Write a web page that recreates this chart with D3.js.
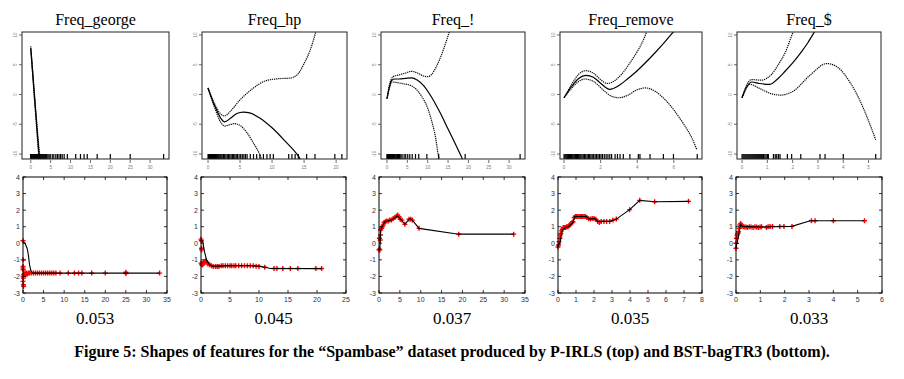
<!DOCTYPE html>
<html>
<head>
<meta charset="utf-8">
<script src="https://cdn.jsdelivr.net/npm/d3@7"></script>
<style>
  body { margin: 0; background: #fff; }
  svg { display: block; }
</style>
</head>
<body>
<div id="chart"></div>
<script>
// ---- data ----
var features = ["Freq_george", "Freq_hp", "Freq_!", "Freq_remove", "Freq_$"];
var scores = ["0.053", "0.045", "0.037", "0.035", "0.033"];
var caption = "Figure 5: Shapes of features for the \u201cSpambase\u201d dataset produced by P-IRLS (top) and BST-bagTR3 (bottom).";

// top row (P-IRLS shape functions)
var topYTicks = [-10, -5, 0, 5, 10];
var topYDomain = [-10.84, 10.5];
var topXTicks = [[0, 5, 10, 15, 20, 25, 30], [0, 5, 10, 15, 20], [0, 5, 10, 15, 20, 25, 30], [0, 2, 4, 6], [0, 1, 2, 3, 4, 5]];
var topXDomain = [[-2.2, 34.75], [-0.94, 21.7], [-1.47, 33.9], [-0.22, 7.54], [-0.2, 5.49]];

var fitGeorge = [[0, 7.8], [0.5, 3.5], [1, -0.9], [1.5, -5.2], [2, -9.4], [2.3, -11.5]];
var upperGeorge = [[0, 8.1], [0.5, 3.9], [1, -0.4], [1.5, -4.6], [2, -8.6], [2.5, -11.5]];
var lowerGeorge = [[0, 7.5], [0.5, 3.1], [1, -1.4], [1.5, -5.8], [1.9, -9.5], [2.1, -11.5]];

var fitHp = [[0, 1.1], [1, -1.8], [2, -4.0], [2.6, -4.6], [3.5, -4.0], [4.5, -3.2], [5.5, -2.95], [6.5, -3.1], [8, -3.9], [10, -5.6], [12, -7.8], [14, -10.2], [14.6, -11.2]];
var upperHp = [[0, 1.1], [1, -1.5], [2, -3.3], [2.6, -3.6], [3.5, -2.8], [5, -0.9], [7, 1.0], [9, 2.3], [11, 2.65], [12.8, 2.75], [14, 3.4], [15, 5.2], [16, 7.6], [17, 11.2]];
var lowerHp = [[0, 1.1], [1, -2.1], [2, -4.7], [2.6, -5.3], [3.3, -5.1], [4.1, -4.9], [5, -5.2], [6, -6.3], [7, -8], [8, -9.9], [8.5, -11.2]];

var fitExcl = [[0, -0.7], [0.5, 1.0], [1.2, 2.4], [2, 2.6], [3, 2.6], [4.5, 2.7], [6, 2.8], [7.5, 2.4], [9, 1.5], [11, -0.5], [13, -3], [15, -5.8], [17, -8.6], [18.5, -10.8], [19, -11.6]];
var upperExcl = [[0, -0.7], [0.5, 1.3], [1.5, 3.0], [3, 3.3], [4.5, 3.6], [6, 3.9], [7.5, 3.6], [9, 3.1], [10, 3.0], [11, 3.4], [12, 4.5], [13, 6], [14, 7.8], [15.6, 11.2]];
var lowerExcl = [[0, -0.7], [0.5, 0.8], [1.2, 2.1], [2.5, 2.0], [4, 1.8], [5.5, 1.6], [7, 1.0], [8.5, -0.3], [10, -2.3], [11, -4.5], [12, -7.5], [12.5, -9.8], [13, -11.5]];

var fitRemove = [[0, -0.55], [0.4, 1.3], [0.8, 2.7], [1.2, 3.2], [1.6, 2.9], [2, 1.9], [2.5, 0.85], [3, 1.5], [3.5, 2.7], [4, 4.0], [4.5, 5.5], [5, 7.1], [5.5, 8.8], [6, 10.6], [6.2, 11.3]];
var upperRemove = [[0, -0.55], [0.4, 1.6], [0.8, 3.4], [1.2, 4.0], [1.6, 3.6], [2, 2.5], [2.35, 1.85], [2.8, 2.4], [3.2, 3.6], [3.6, 5.3], [4, 7.2], [4.3, 8.9], [4.6, 11.2]];
var lowerRemove = [[0, -0.55], [0.4, 1.0], [0.8, 2.2], [1.15, 2.6], [1.6, 2.2], [2.2, 0.6], [2.6, -0.3], [3, -0.55], [3.5, -0.1], [4, 0.8], [4.45, 1.1], [5, 0.5], [5.5, -0.8], [6, -2.6], [6.5, -4.8], [7, -7.4], [7.25, -9.2]];

var fitDollar = [[0, -0.55], [0.15, 1.0], [0.38, 2.1], [0.7, 1.85], [1.1, 1.7], [1.4, 2.6], [1.7, 3.9], [2, 5.3], [2.3, 6.9], [2.6, 8.7], [2.9, 10.8], [3, 11.5]];
var upperDollar = [[0, -0.55], [0.15, 1.3], [0.38, 2.5], [0.78, 2.4], [1.0, 2.8], [1.17, 3.4], [1.4, 4.8], [1.7, 7.0], [2.05, 10.8], [2.15, 11.6]];
var lowerDollar = [[0, -0.55], [0.15, 0.9], [0.3, 1.7], [0.7, 1.0], [1.1, 0.2], [1.5, -0.1], [2, 0.5], [2.7, 3.3], [3.35, 5.2], [3.8, 4.5], [4.27, 2.0], [4.6, -0.5], [4.92, -3.6], [5.28, -7.6]];

var topFit = [fitGeorge, fitHp, fitExcl, fitRemove, fitDollar];
var topUpper = [upperGeorge, upperHp, upperExcl, upperRemove, upperDollar];
var topLower = [lowerGeorge, lowerHp, lowerExcl, lowerRemove, lowerDollar];

// rug of training values
var rugGeorge = [0, 0.04, 0.09, 0.15, 0.2, 0.26, 0.33, 0.4, 0.48, 0.55, 0.63, 0.71, 0.8, 0.9, 1.0, 1.1, 1.22, 1.35, 1.48, 1.6, 1.75, 1.9, 2.05, 2.2, 2.4, 2.6, 2.8, 3.0, 3.25, 3.5, 3.75, 4.0, 4.3, 4.6, 4.9, 5.4, 5.8, 6.3, 6.7, 7.1, 7.5, 7.9, 8.4, 9.2, 11.3, 12.5, 13.4, 14.2, 16.7, 20, 25, 33.4];
var rugHp = [0, 0.1, 0.2, 0.3, 0.4, 0.5, 0.6, 0.7, 0.8, 0.9, 1.0, 1.15, 1.3, 1.45, 1.6, 1.75, 1.9, 2.05, 2.2, 2.4, 2.6, 2.8, 3.0, 3.2, 3.4, 3.6, 3.8, 4.0, 4.2, 4.4, 4.6, 4.85, 5.1, 5.35, 5.6, 5.85, 6.1, 6.6, 7.1, 7.6, 8.1, 8.65, 9.2, 9.7, 10.2, 12.6, 13.1, 13.6, 14.1, 15.4, 16.7, 19.8, 20.9];
var rugExcl = [0, 0.1, 0.2, 0.3, 0.4, 0.5, 0.6, 0.7, 0.8, 0.9, 1.0, 1.15, 1.3, 1.45, 1.6, 1.8, 2.0, 2.2, 2.4, 2.6, 2.85, 3.1, 3.4, 3.7, 4.2, 4.6, 5.1, 5.6, 6.2, 7.0, 7.8, 9.8, 12.7, 19.2, 32.7];
var rugRemove = [0, 0.05, 0.1, 0.15, 0.2, 0.25, 0.3, 0.35, 0.4, 0.45, 0.5, 0.56, 0.62, 0.68, 0.74, 0.8, 0.86, 0.92, 0.98, 1.05, 1.12, 1.19, 1.26, 1.33, 1.4, 1.47, 1.54, 1.62, 1.7, 1.78, 1.86, 1.94, 2.02, 2.1, 2.2, 2.3, 2.4, 2.5, 2.6, 2.79, 2.92, 3.06, 3.24, 3.6, 4.06, 4.15, 4.7, 5.43, 5.98, 7.28];
var rugDollar = [0, 0.04, 0.08, 0.12, 0.16, 0.2, 0.24, 0.28, 0.32, 0.36, 0.4, 0.44, 0.48, 0.52, 0.56, 0.6, 0.64, 0.68, 0.72, 0.76, 0.8, 0.85, 0.9, 0.95, 1.0, 1.04, 1.24, 1.31, 1.37, 1.44, 1.5, 1.79, 1.96, 2.32, 3.08, 3.28, 4.0, 5.28];
var topRug = [rugGeorge, rugHp, rugExcl, rugRemove, rugDollar];

// bottom row (BST-bagTR3)
var botYTicks = [-3, -2, -1, 0, 1, 2, 3, 4];
var botYDomain = [-3, 4];
var botXTicks = [[0, 5, 10, 15, 20, 25, 30, 35], [0, 5, 10, 15, 20, 25], [0, 5, 10, 15, 20, 25, 30, 35], [0, 1, 2, 3, 4, 5, 6, 7, 8], [0, 1, 2, 3, 4, 5, 6]];
var botXDomain = [[0, 35], [0, 25], [0, 35], [0, 8], [0, 6]];

var bagLineGeorge = [[0, 0.1], [0.5, 0.0], [1.0, -0.3], [1.3, -0.7], [1.6, -1.3], [1.9, -1.65], [2.3, -1.78], [2.7, -1.8], [33.2, -1.8]];
var bagLineHp = [[0, 0.2], [0.3, 0.1], [0.6, -0.5], [1.0, -1.05], [1.5, -1.3], [2, -1.38], [3, -1.38], [5, -1.35], [8, -1.35], [10, -1.38], [11, -1.45], [12, -1.52], [20.8, -1.53]];
var bagLineExcl = [[0, -0.4], [0.2, -0.4], [0.4, 0.8], [1.0, 1.1], [1.4, 1.3], [2, 1.35], [3, 1.4], [4.4, 1.65], [5.4, 1.4], [6.2, 1.15], [7.4, 1.5], [8, 1.4], [9.6, 0.9], [19.1, 0.55], [32.3, 0.55]];
var bagLineRemove = [[0, -0.22], [0.13, 0.12], [0.24, 0.82], [0.46, 0.96], [0.65, 1.06], [0.83, 1.26], [0.93, 1.62], [1.57, 1.62], [1.76, 1.46], [2.04, 1.5], [2.2, 1.32], [2.87, 1.32], [3.24, 1.46], [3.98, 2.03], [4.54, 2.59], [5.37, 2.51], [7.3, 2.53]];
var bagLineDollar = [[0, -0.29], [0.1, 0.42], [0.19, 1.12], [0.27, 1.02], [0.99, 0.98], [2.29, 1.02], [3.05, 1.36], [5.25, 1.36]];
var botLine = [bagLineGeorge, bagLineHp, bagLineExcl, bagLineRemove, bagLineDollar];

var bagPtsGeorge = [[0, 0.15], [0, -1.0], [0, -1.4], [0, -1.5], [0.05, -1.6], [0.05, -2.0], [0.1, -2.1], [0, -2.3], [0.1, -2.5], [0.15, -2.6], [0.2, -1.9], [0.3, -1.85], [0.5, -1.8], [0.7, -1.9], [0.8, -1.8], [1.0, -1.85], [1.3, -1.8], [1.6, -1.8], [2, -1.8], [2.5, -1.8], [3, -1.8], [3.5, -1.8], [4, -1.8], [4.5, -1.8], [5, -1.8], [5.5, -1.8], [6, -1.8], [6.5, -1.8], [7, -1.8], [7.5, -1.8], [8, -1.8], [9, -1.8], [11, -1.8], [12.5, -1.8], [13.5, -1.8], [14.3, -1.8], [16.7, -1.8], [20, -1.8], [25, -1.75], [25, -1.82], [33.2, -1.8]];
var bagPtsHp = [[0, 0.25], [0.05, 0.15], [0.1, -0.3], [0.1, -0.4], [0, -1.2], [0.1, -1.3], [0.2, -1.25], [0.3, -1.3], [0.4, -1.2], [0.5, -1.15], [0.6, -1.1], [0.8, -1.05], [1.0, -1.15], [1.2, -1.25], [1.5, -1.3], [1.8, -1.35], [2.1, -1.4], [2.5, -1.4], [2.8, -1.4], [3.1, -1.4], [3.5, -1.35], [3.8, -1.35], [4.2, -1.35], [4.6, -1.35], [5, -1.35], [5.3, -1.35], [5.7, -1.35], [6, -1.35], [6.5, -1.35], [7, -1.35], [7.5, -1.35], [8, -1.35], [8.5, -1.35], [9, -1.35], [9.5, -1.38], [10, -1.4], [11, -1.45], [12.6, -1.52], [13.1, -1.52], [14.1, -1.52], [15.4, -1.52], [16.7, -1.52], [19.8, -1.52], [20.8, -1.52]];
var bagPtsExcl = [[0, -0.4], [0.1, -0.35], [0.2, -0.4], [0.1, 0.3], [0.3, 0.2], [0.35, 0.5], [0.4, 0.8], [0.6, 0.9], [0.8, 1.0], [1, 1.1], [1.2, 1.25], [1.5, 1.3], [1.8, 1.35], [2.2, 1.35], [2.6, 1.4], [3, 1.4], [3.4, 1.5], [3.8, 1.55], [4.2, 1.65], [4.5, 1.7], [4.8, 1.6], [5.1, 1.45], [5.5, 1.4], [6.2, 1.15], [7.2, 1.45], [7.6, 1.45], [8, 1.4], [9.6, 0.9], [19.1, 0.55], [32.3, 0.55]];
var bagPtsRemove = [[0, -0.22], [0.03, -0.1], [0.06, 0.1], [0.1, 0.3], [0.13, 0.5], [0.16, 0.6], [0.2, 0.75], [0.24, 0.85], [0.3, 0.95], [0.36, 0.95], [0.42, 0.95], [0.48, 1.0], [0.55, 1.0], [0.6, 1.05], [0.66, 1.1], [0.72, 1.2], [0.78, 1.25], [0.83, 1.3], [0.9, 1.55], [0.96, 1.62], [1.03, 1.62], [1.1, 1.62], [1.17, 1.62], [1.24, 1.62], [1.31, 1.62], [1.38, 1.62], [1.45, 1.62], [1.52, 1.62], [1.6, 1.55], [1.7, 1.48], [1.8, 1.46], [1.9, 1.5], [2.0, 1.5], [2.1, 1.45], [2.2, 1.32], [2.3, 1.25], [2.4, 1.32], [2.55, 1.32], [2.7, 1.32], [2.87, 1.32], [3.05, 1.4], [3.24, 1.46], [3.98, 2.03], [4.54, 2.59], [5.37, 2.51], [7.25, 2.53]];
var bagPtsDollar = [[0, -0.3], [0, 0.0], [0.02, 0.3], [0.05, 0.5], [0.08, 0.6], [0.1, 0.7], [0.13, 0.9], [0.16, 1.1], [0.19, 1.2], [0.22, 1.1], [0.25, 1.05], [0.3, 1.0], [0.36, 0.98], [0.42, 0.98], [0.48, 0.96], [0.55, 1.0], [0.62, 0.98], [0.7, 0.96], [0.78, 1.0], [0.85, 0.98], [0.92, 0.96], [0.99, 0.98], [1.05, 1.0], [1.25, 0.95], [1.32, 1.0], [1.4, 1.02], [1.5, 1.02], [1.8, 1.02], [1.97, 1.02], [2.3, 1.02], [3.1, 1.36], [3.25, 1.36], [4.0, 1.36], [5.28, 1.36]];
var botPts = [bagPtsGeorge, bagPtsHp, bagPtsExcl, bagPtsRemove, bagPtsDollar];

// ---- layout ----
var W = 904, H = 379;
var topBox = [[22, 169], [202, 347], [381, 525], [560, 702], [737, 881]];
var topY = [32, 159];
var botBox = [[23, 167], [201, 346], [379, 525], [558, 702], [736, 882]];
var botY = [177, 293];
var serif = "'Liberation Serif', 'Times New Roman', Times, serif";
var sans = "'Liberation Sans', Arial, Helvetica, sans-serif";

var svg = d3.select("#chart").append("svg")
    .attr("width", W).attr("height", H)
    .style("background", "#fff");

var defs = svg.append("defs");

features.forEach(function(name, i) {
    // ---------- top: P-IRLS ----------
    var x = d3.scaleLinear().domain(topXDomain[i]).range(topBox[i]);
    var y = d3.scaleLinear().domain(topYDomain).range([topY[1], topY[0]]);
    var g = svg.append("g").attr("class", "top-panel");

    defs.append("clipPath").attr("id", "clipTop" + i)
        .append("rect")
        .attr("x", topBox[i][0]).attr("y", topY[0])
        .attr("width", topBox[i][1] - topBox[i][0]).attr("height", topY[1] - topY[0]);

    g.append("text")
        .attr("x", (topBox[i][0] + topBox[i][1]) / 2).attr("y", 25)
        .attr("text-anchor", "middle")
        .style("font-family", serif).style("font-size", "16px")
        .text(name);

    var line = d3.line()
        .x(function(d) { return x(d[0]); })
        .y(function(d) { return y(d[1]); })
        .curve(d3.curveMonotoneX);

    var curves = g.append("g").attr("clip-path", "url(#clipTop" + i + ")");
    curves.append("path").datum(topUpper[i])
        .attr("d", line).attr("fill", "none")
        .attr("stroke", "#111").attr("stroke-width", 1.2).attr("stroke-dasharray", "1.3,0.8");
    curves.append("path").datum(topLower[i])
        .attr("d", line).attr("fill", "none")
        .attr("stroke", "#111").attr("stroke-width", 1.2).attr("stroke-dasharray", "1.3,0.8");
    curves.append("path").datum(topFit[i])
        .attr("d", line).attr("fill", "none")
        .attr("stroke", "#000").attr("stroke-width", 1.2);

    // rug
    g.append("g").selectAll("line")
        .data(topRug[i]).enter().append("line")
        .attr("x1", function(d) { return x(d); }).attr("x2", function(d) { return x(d); })
        .attr("y1", topY[1]).attr("y2", topY[1] - 5)
        .attr("stroke", "#000").attr("stroke-width", 1.2);

    // box
    g.append("rect")
        .attr("x", topBox[i][0]).attr("y", topY[0])
        .attr("width", topBox[i][1] - topBox[i][0]).attr("height", topY[1] - topY[0])
        .attr("fill", "none").attr("stroke", "#222").attr("stroke-width", 1);

    // y ticks (tiny, rotated like R)
    var yt = g.append("g").selectAll("g").data(topYTicks).enter().append("g");
    yt.append("line")
        .attr("x1", topBox[i][0] - 3).attr("x2", topBox[i][0])
        .attr("y1", function(d) { return y(d); }).attr("y2", function(d) { return y(d); })
        .attr("stroke", "#444").attr("stroke-width", 0.8);
    yt.append("text")
        .attr("transform", function(d) { return "translate(" + (topBox[i][0] - 5) + "," + y(d) + ") rotate(-90)"; })
        .attr("text-anchor", "middle")
        .style("font-family", sans).style("font-size", "4.5px").style("fill", "#8a7a8a")
        .text(function(d) { return d; });

    // x ticks
    var xt = g.append("g").selectAll("g").data(topXTicks[i]).enter().append("g");
    xt.append("line")
        .attr("x1", function(d) { return x(d); }).attr("x2", function(d) { return x(d); })
        .attr("y1", topY[1] + 1).attr("y2", topY[1] + 4)
        .attr("stroke", "#444").attr("stroke-width", 0.8);
    xt.append("text")
        .attr("x", function(d) { return x(d); }).attr("y", topY[1] + 10)
        .attr("text-anchor", "middle")
        .style("font-family", sans).style("font-size", "4.5px").style("fill", "#7a7a8a")
        .text(function(d) { return d; });

    // ---------- bottom: BST-bagTR3 ----------
    var bx = d3.scaleLinear().domain(botXDomain[i]).range(botBox[i]);
    var by = d3.scaleLinear().domain(botYDomain).range([botY[1], botY[0]]);
    var b = svg.append("g").attr("class", "bottom-panel");

    // points
    b.append("g").selectAll("path")
        .data(botPts[i]).enter().append("path")
        .attr("d", function(d) {
            var px = bx(d[0]), py = by(d[1]);
            return "M" + (px - 2.5) + "," + py + "H" + (px + 2.5) + "M" + px + "," + (py - 2.5) + "V" + (py + 2.5);
        })
        .attr("stroke", "#f00").attr("stroke-width", 1.4).attr("fill", "none");

    var bline = d3.line()
        .x(function(d) { return bx(d[0]); })
        .y(function(d) { return by(d[1]); });
    b.append("path").datum(botLine[i])
        .attr("d", bline).attr("fill", "none")
        .attr("stroke", "#000").attr("stroke-width", 1.1);

    b.append("rect")
        .attr("x", botBox[i][0]).attr("y", botY[0])
        .attr("width", botBox[i][1] - botBox[i][0]).attr("height", botY[1] - botY[0])
        .attr("fill", "none").attr("stroke", "#000").attr("stroke-width", 1);

    // inward mirror ticks
    var byt = b.append("g").selectAll("g").data(botYTicks).enter().append("g");
    byt.append("path")
        .attr("d", function(d) {
            var py = by(d);
            return "M" + botBox[i][0] + "," + py + "h3M" + botBox[i][1] + "," + py + "h-3";
        })
        .attr("stroke", "#000").attr("stroke-width", 0.8);
    byt.append("text")
        .attr("x", botBox[i][0] - 3).attr("y", function(d) { return by(d) + 2.5; })
        .attr("text-anchor", "end")
        .style("font-family", sans).style("font-size", "7px").style("fill", "#2a3040")
        .text(function(d) { return d; });

    var bxt = b.append("g").selectAll("g").data(botXTicks[i]).enter().append("g");
    bxt.append("path")
        .attr("d", function(d) {
            var px = bx(d);
            return "M" + px + "," + botY[1] + "v-3M" + px + "," + botY[0] + "v3";
        })
        .attr("stroke", "#000").attr("stroke-width", 0.8);
    bxt.append("text")
        .attr("x", function(d) { return bx(d); }).attr("y", botY[1] + 9)
        .attr("text-anchor", "middle")
        .style("font-family", sans).style("font-size", "7px").style("fill", "#2a3040")
        .text(function(d) { return d; });

    b.append("text")
        .attr("x", (botBox[i][0] + botBox[i][1]) / 2).attr("y", 324)
        .attr("text-anchor", "middle")
        .style("font-family", serif).style("font-size", "17px")
        .text(scores[i]);
});

svg.append("text")
    .attr("x", W / 2).attr("y", 357)
    .attr("text-anchor", "middle")
    .style("font-family", serif).style("font-size", "16px").style("font-weight", "bold")
    .text(caption);
</script>
</body>
</html>
